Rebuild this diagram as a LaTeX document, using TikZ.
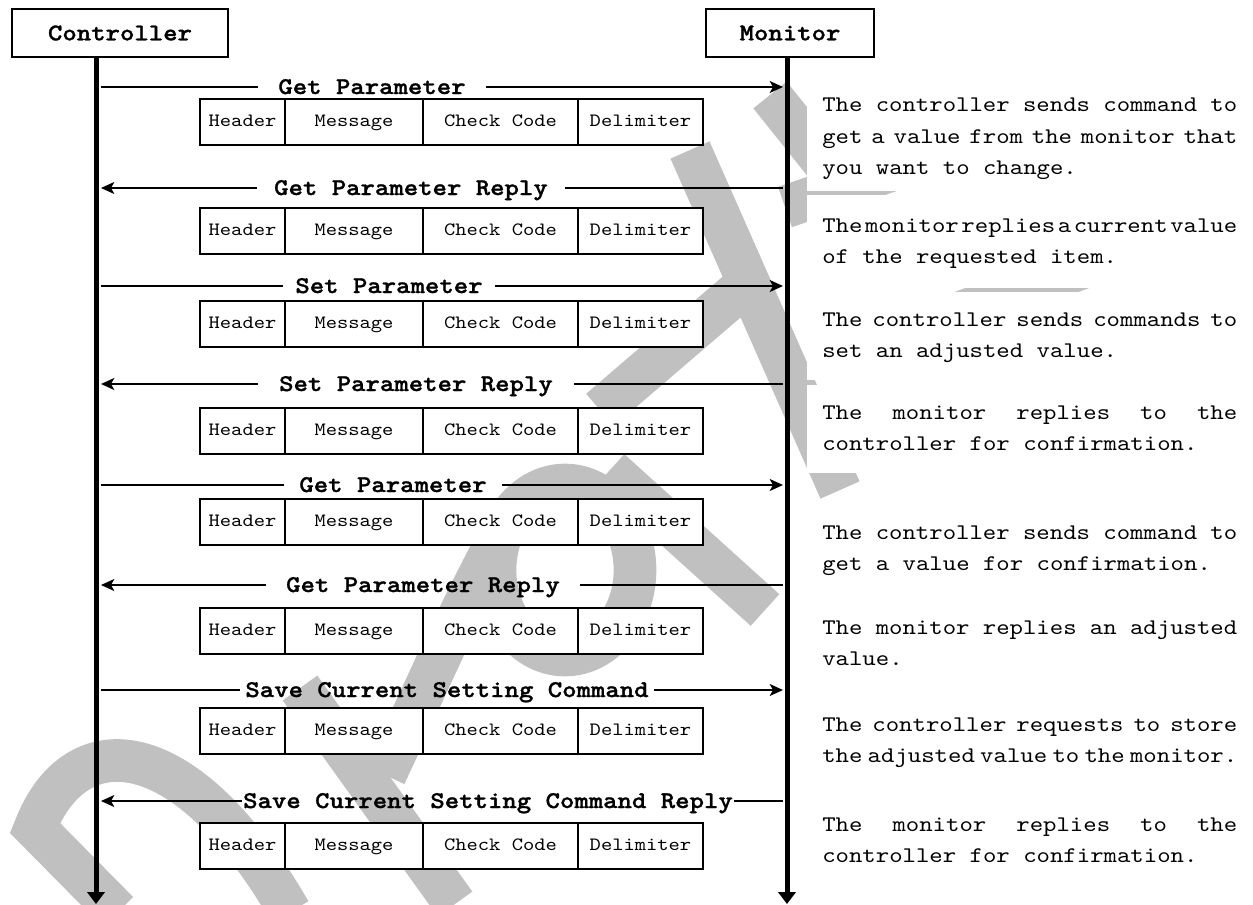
\documentclass[tikz,border=0pt]{standalone}
\usepackage{fontspec}
\setmonofont{lmmono10-regular}[Extension=.otf,BoldFont=lmmonolt10-bold,
    BoldFeatures={FakeBold=1.2},FakeStretch=1.143]
\usetikzlibrary{arrows.meta}

\definecolor{wmgray}{RGB}{192,192,192}
\newcommand{\descw}{311.25pt}
% one justified line / one plain line of a description
\newcommand{\jline}[1]{\hbox to \descw{\strut\spaceskip=.6em plus 1fil minus 1fil\relax #1}}
\newcommand{\lline}[1]{\hbox{\strut #1}}

\begin{document}
\begin{tikzpicture}[x=0.75pt,y=-0.75pt,
    wmstroke/.style={draw=wmgray,line width=32pt},
    party/.style={draw,line width=1.5pt,fill=white,minimum height=36pt,inner sep=0pt,
        font=\ttfamily\bfseries\fontsize{18pt}{20pt}\selectfont},
    lifeline/.style={line width=3.75pt,-{Triangle[length=9pt,width=13pt]}},
    msg/.style={line width=1.1pt},
    msgtip/.style={msg,-{Stealth[length=10pt,width=9pt,inset=2.5pt]}},
    msglabel/.style={inner ysep=0pt,text height=15pt,text depth=4.5pt,
        font=\ttfamily\bfseries\fontsize{18pt}{20pt}\selectfont},
    cell/.style={draw,line width=1.1pt,fill=white,anchor=north west,outer sep=0pt,
        inner sep=0pt,minimum height=34.5pt,text height=10.5pt,text depth=3.5pt,
        font=\ttfamily\fontsize{14.1pt}{16pt}\selectfont},
    desc/.style={fill=white,anchor=west,inner xsep=11.25pt,inner ysep=0pt,minimum height=66pt,
        font=\ttfamily\fontsize{16.75pt}{23.5pt}\selectfont}]
    \useasboundingbox (0,0) rectangle (1253,904);

    %% watermark
    \draw[wmstroke,line join=miter] (118,912) -- (35,828) .. controls (75,725) and (185,730) .. (290,912);
    \draw[wmstroke] (300,688) -- (455,904);
    \draw[wmstroke] (385,775) .. controls (425,690) and (455,620) .. (495,545);
    \draw[wmstroke] (565,570) ellipse [x radius=70, y radius=85];
    \draw[wmstroke] (610,470) -- (765,610);
    \draw[wmstroke] (690,150) -- (840,490);
    \draw[wmstroke] (600,410) -- (748,283);
    \draw[wmstroke] (770,95) -- (830,170);
    \draw[wmstroke] (785,207) -- (950,150);
    \draw[wmstroke] (940,320) -- (1090,265);

    %% lifelines
    \node[party,minimum width=162pt] (ctl) at (120,33) {Controller};
    \node[party,minimum width=126pt] (mon) at (790,33) {Monitor};
    \coordinate (ctlend) at (96,904);
    \coordinate (monend) at (787,904);
    \draw[lifeline] (ctl.south -| ctlend) -- (ctlend);
    \draw[lifeline] (mon.south -| monend) -- (monend);

    %% messages
    \foreach \i/\y/\x/\g/\txt/\sl/\sr in
    {1/87/372/15pt/Get Parameter/msg/msgtip,
        2/188/411/13pt/Get Parameter Reply/msgtip/msg,
        3/286/389/9pt/Set Parameter/msg/msgtip,
        4/384/416/16pt/Set Parameter Reply/msgtip/msg,
        5/485/393/11pt/Get Parameter/msg/msgtip,
        6/585/423/15pt/Get Parameter Reply/msgtip/msg,
        7/690/447/4pt/Save Current Setting Command/msg/msgtip,
        8/801/488/1pt/Save Current Setting Command Reply/msgtip/msg}
    {
        \coordinate (c\i) at (101,\y);
        \coordinate (m\i) at (783,\y);
        \node[msglabel,inner xsep=\g] (l\i) at (\x,\y) {\txt};
        \draw[\sl] (l\i.west) -- (c\i);
        \draw[\sr] (l\i.east) -- (m\i);
    };

    %% frames
    \foreach \i/\t in {1/99,2/208,3/301,4/408,5/499,6/608,7/708,8/823}
    {
        \node[cell,minimum width=63.75pt] (hd\i) at (200,\t) {Header};
        \node[cell,minimum width=103.5pt] (ms\i) at (hd\i.north east) {Message};
        \node[cell,minimum width=116.25pt] (cc\i) at (ms\i.north east) {Check Code};
        \node[cell,minimum width=93.75pt] (dl\i) at (cc\i.north east) {Delimiter};
    };

    %% descriptions
    \node[desc,minimum height=81pt] (d1) at (807,137) {\vbox{\jline{The controller sends command to}
        \jline{get a value from the monitor that}\lline{you want to change.}}};
    \node[desc,minimum height=69.75pt] (d2) at (807,241.5) {\vbox{\jline{The monitor replies a current value}
        \lline{of the requested item.}}};
    \node[desc] (d3) at (807,336) {\vbox{\jline{The controller sends commands to}
        \lline{set an adjusted value.}}};
    \node[desc] (d4) at (807,429) {\vbox{\jline{The monitor replies to the}
        \lline{controller for confirmation.}}};
    \node[desc] (d5) at (807,549) {\vbox{\jline{The controller sends command to}
        \lline{get a value for confirmation.}}};
    \node[desc] (d6) at (807,644) {\vbox{\jline{The monitor replies an adjusted}
        \lline{value.}}};
    \node[desc] (d7) at (807,741) {\vbox{\jline{The controller requests to store}
        \jline{the adjusted value to the monitor.}}};
    \node[desc] (d8) at (807,841) {\vbox{\jline{The monitor replies to the}
        \lline{controller for confirmation.}}};
\end{tikzpicture}
\end{document}
